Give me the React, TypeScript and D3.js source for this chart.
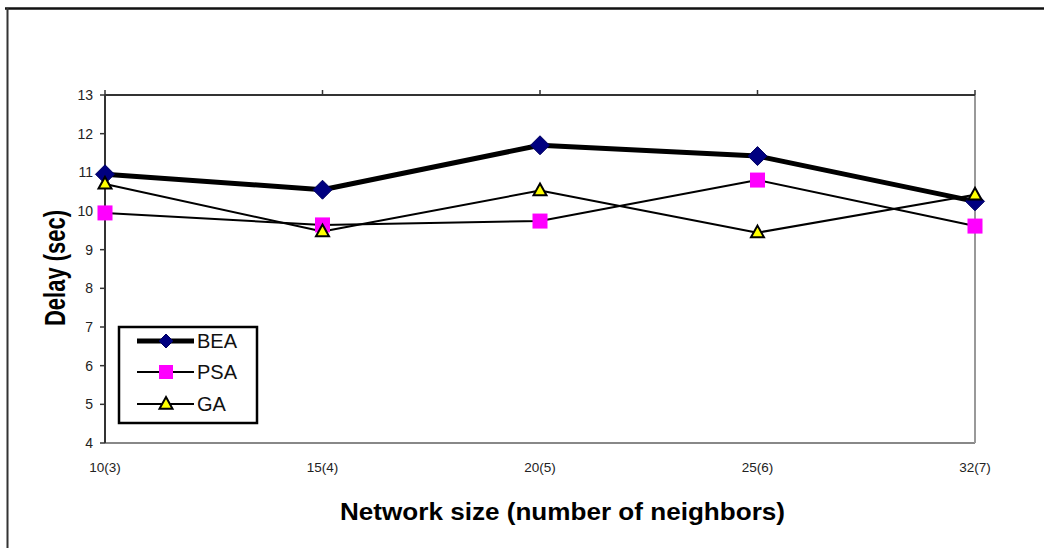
import React from "react";
import * as d3 from "d3";

// Network sizes (neighbor count in parentheses)
const categories = ["10(3)", "15(4)", "20(5)", "25(6)", "32(7)"];
// Delay in seconds per algorithm
const beaValues = [10.95, 10.55, 11.7, 11.42, 10.25];
const psaValues = [9.95, 9.64, 9.74, 10.8, 9.61];
const gaValues = [10.7, 9.47, 10.53, 9.44, 10.42];
const yTicks = [4, 5, 6, 7, 8, 9, 10, 11, 12, 13];

const FONT = "'Liberation Sans', Arial, Helvetica, sans-serif";

const W = 1044;
const H = 548;
const plot = { left: 105, right: 975, top: 95, bottom: 443 };

type MarkerKind = "diamond" | "square" | "triangle";

function Marker({ kind, x, y, s }: { kind: MarkerKind; x: number; y: number; s: number }) {
  if (kind === "diamond") {
    const r = s / 2;
    return (
      <path
        d={`M${x},${y - r}L${x + r},${y}L${x},${y + r}L${x - r},${y}Z`}
        fill="#000080"
        stroke="#000060"
        strokeWidth={1}
      />
    );
  }
  if (kind === "square") {
    return <rect x={x - s / 2} y={y - s / 2} width={s} height={s} fill="#FF00FF" />;
  }
  const h = s * 0.9;
  return (
    <path
      d={`M${x},${y - h * 0.6}L${x + s / 2},${y + h * 0.4}L${x - s / 2},${y + h * 0.4}Z`}
      fill="#FFFF00"
      stroke="#000"
      strokeWidth={2}
      strokeLinejoin="miter"
    />
  );
}

export default function App() {
  const x = d3.scalePoint<string>().domain(categories).range([plot.left, plot.right]);
  const y = d3.scaleLinear().domain([4, 13]).range([plot.bottom, plot.top]);

  const line = d3
    .line<number>()
    .x((_, i) => x(categories[i]) as number)
    .y((d) => y(d));

  const series = [
    { name: "BEA", values: beaValues, width: 5, marker: "diamond" as MarkerKind, size: 19, legendSize: 14 },
    { name: "PSA", values: psaValues, width: 2, marker: "square" as MarkerKind, size: 15, legendSize: 14 },
    { name: "GA", values: gaValues, width: 2, marker: "triangle" as MarkerKind, size: 13, legendSize: 13 },
  ];

  const legendRows = [341, 372, 404];

  return (
    <svg
      width={W}
      height={H}
      viewBox={`0 0 ${W} ${H}`}
      style={{ position: "absolute", left: 0, top: 0, background: "#fff" }}
      fontFamily={FONT}
    >
      <rect x={0} y={0} width={W} height={H} fill="#fff" />
      {/* outer frame */}
      <line x1={5} x2={W} y1={8.5} y2={8.5} stroke="#111" strokeWidth={2.5} />
      <line x1={7.5} x2={7.5} y1={8} y2={H} stroke="#333" strokeWidth={2} />

      {/* plot border */}
      <line x1={plot.left} x2={plot.right} y1={plot.bottom} y2={plot.bottom} stroke="#888" strokeWidth={2} />
      <line x1={plot.right} x2={plot.right} y1={plot.top} y2={plot.bottom} stroke="#999" strokeWidth={2} />
      <line x1={plot.left} x2={plot.right} y1={plot.top} y2={plot.top} stroke="#333" strokeWidth={2} />
      <line x1={plot.left} x2={plot.left} y1={plot.top} y2={plot.bottom} stroke="#333" strokeWidth={2} />

      {/* y ticks */}
      {yTicks.map((t) => (
        <g key={t}>
          <line x1={plot.left - 5} x2={plot.left} y1={y(t)} y2={y(t)} stroke="#333" strokeWidth={1.5} />
          <text x={93} y={y(t) + 5} textAnchor="end" fontSize={14} fill="#222">
            {t}
          </text>
        </g>
      ))}

      {/* x ticks */}
      {categories.map((c) => (
        <g key={c}>
          <line x1={x(c)} x2={x(c)} y1={plot.top - 5} y2={plot.top} stroke="#333" strokeWidth={1.5} />
          <text x={x(c)} y={472} textAnchor="middle" fontSize={13.5} fill="#222">
            {c}
          </text>
        </g>
      ))}

      {/* series lines */}
      {series.map((s) => (
        <path key={s.name} d={line(s.values) || ""} fill="none" stroke="#000" strokeWidth={s.width} strokeLinejoin="round" />
      ))}
      {/* series markers */}
      {series.map((s) =>
        s.values.map((v, i) => (
          <Marker key={s.name + i} kind={s.marker} x={x(categories[i]) as number} y={y(v)} s={s.size} />
        ))
      )}

      {/* legend */}
      <rect x={119} y={327} width={138} height={96} fill="#fff" stroke="#000" strokeWidth={2.5} />
      {series.map((s, i) => (
        <g key={s.name}>
          <line x1={137} x2={194} y1={legendRows[i]} y2={legendRows[i]} stroke="#000" strokeWidth={s.width} />
          <Marker kind={s.marker} x={166} y={legendRows[i]} s={s.legendSize} />
          <text x={197} y={legendRows[i] + 7} fontSize={20} fill="#111">
            {s.name}
          </text>
        </g>
      ))}

      {/* axis titles */}
      <g transform="translate(65,268) scale(1.3,1) rotate(-90)">
        <text textAnchor="middle" fontSize={22} fontWeight="bold" fill="#000">
          Delay (sec)
        </text>
      </g>
      <text
        x={340}
        y={520}
        fontSize={23}
        fontWeight="bold"
        fill="#000"
        textLength={445}
        lengthAdjust="spacingAndGlyphs"
      >
        Network size (number of neighbors)
      </text>
    </svg>
  );
}
